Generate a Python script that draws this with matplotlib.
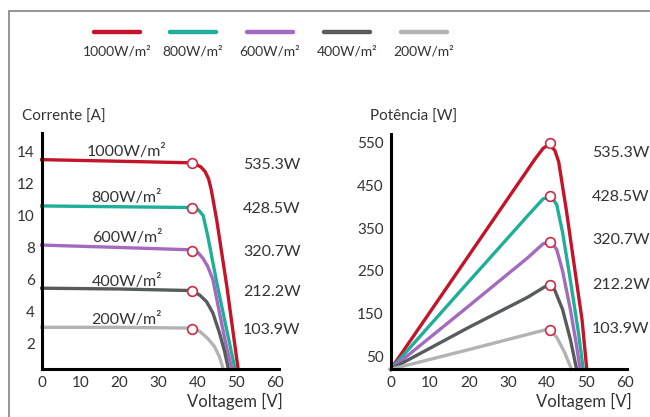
import matplotlib
matplotlib.use('Agg')
import matplotlib.pyplot as plt
import matplotlib.patches as mpatches
from matplotlib.lines import Line2D

plt.rcParams['font.family'] = ['Lato', 'DejaVu Sans']

# ---------------------------------------------------------------------------
# Data
# ---------------------------------------------------------------------------
irradiance = ['1000W/m²', '800W/m²', '600W/m²', '400W/m²', '200W/m²']
p_max_labels = ['535.3W', '428.5W', '320.7W', '212.2W', '103.9W']

# I-V curves
V_1000 = [0, 20, 38.7, 40.9, 42.0, 42.9, 43.6, 45.0, 47.6, 50.5]
I_1000 = [13.5, 13.4, 13.3, 13.05, 12.75, 12.3, 11.6, 9.7, 5.55, 0.37]
V_800 = [0, 20, 38.7, 40.3, 41.5, 42.7, 45.0, 47.5, 49.7]
I_800 = [10.6, 10.55, 10.5, 10.35, 10.0, 8.7, 5.8, 2.9, 0.37]
V_600 = [0, 20, 38.7, 40.3, 41.5, 42.7, 44.0, 45.7, 47.3, 48.9]
I_600 = [8.15, 8.0, 7.85, 7.65, 7.3, 6.8, 6.0, 3.9, 2.0, 0.37]
V_400 = [0, 20, 38.7, 40.7, 42.4, 44.0, 45.7, 47.0, 48.0]
I_400 = [5.45, 5.4, 5.3, 5.0, 4.6, 3.9, 2.65, 1.5, 0.37]
V_200 = [0, 20, 38.7, 40.7, 42.7, 44.4, 45.7, 46.7]
I_200 = [3.0, 3.0, 2.95, 2.73, 2.3, 1.8, 1.15, 0.37]

# MPP markers on the I-V plot
mpp_v = [38.7, 38.7, 38.7, 38.7, 38.7]
mpp_i = [13.27, 10.5, 7.8, 5.3, 2.9]
iv_label_i = [14.0, 11.1, 8.6, 5.86, 3.46]

# P-V curves
PV_1000 = [0, 10, 20, 30, 37, 39, 40.5, 42.0, 43.0, 45.0, 47.0, 49.0, 50.2]
P_1000 = [20, 153, 286, 419, 512, 536, 545, 532, 505, 390, 262, 135, 20]
PV_800 = [0, 20, 35, 39, 41, 42.5, 44, 46, 48, 49.3]
P_800 = [20, 225, 378, 418, 424, 405, 340, 228, 110, 20]
PV_600 = [0, 20, 35, 39, 41, 42.5, 44, 46, 47.5, 48.5]
P_600 = [20, 168, 280, 313, 318, 300, 250, 160, 80, 20]
PV_400 = [0, 20, 35, 39.5, 41, 42, 44, 46, 47.6]
P_400 = [20, 118, 188, 213, 216, 205, 160, 90, 20]
PV_200 = [0, 20, 39.5, 41, 42.5, 44.5, 46.3]
P_200 = [20, 66, 112, 110, 95, 60, 20]

mpp_pv = [40.8, 40.8, 40.8, 40.8, 40.8]
mpp_p = [548, 424, 318, 217, 112]
pv_label_p = [525, 422, 321, 217, 114]

COLORS = ['#c3142a', '#1fae97', '#a36bbf', '#575b5c', '#b3b3b3']
MARK = '#cc2a45'
TXT = '#333333'

iv_series = [(V_1000, I_1000), (V_800, I_800), (V_600, I_600),
             (V_400, I_400), (V_200, I_200)]
pv_series = [(PV_1000, P_1000), (PV_800, P_800), (PV_600, P_600),
             (PV_400, P_400), (PV_200, P_200)]

fig = plt.figure(figsize=(6.5, 4.17), dpi=100)

# frame
fig.patches.append(mpatches.Rectangle((9 / 650, -0.1), 1.2, 1 - 11 / 417 + 0.1,
                                      transform=fig.transFigure, fill=False,
                                      edgecolor='#8c8c8c', linewidth=1.3))

# legend: line above label
leg_x = [117, 193, 270, 347, 424]
for k, (lab, c) in enumerate(zip(irradiance, COLORS)):
    cx = leg_x[k] / 650
    fig.add_artist(Line2D([cx - 23 / 650, cx + 23 / 650], [1 - 32 / 417] * 2,
                          transform=fig.transFigure, color=c, linewidth=3.2,
                          solid_capstyle='round'))
    fig.text(cx, 1 - 51 / 417, lab, ha='center', va='center', fontsize=10,
             color=TXT)


def style(ax):
    for s in ['top', 'right']:
        ax.spines[s].set_visible(False)
    for s in ['left', 'bottom']:
        ax.spines[s].set_linewidth(2.2)
        ax.spines[s].set_color('black')
    ax.tick_params(length=0, labelsize=11, colors=TXT, pad=5)


# ===================================================================
# I-V plot
# ===================================================================
ax1 = fig.add_axes([41.7 / 650, 1 - 369.3 / 417, 237.3 / 650, 236 / 417])
for (v, i), c in zip(iv_series, COLORS):
    ax1.plot(v, i, color=c, linewidth=2.4, solid_joinstyle='round', clip_on=False)
ax1.plot(mpp_v, mpp_i, 'o', markersize=7, markerfacecolor='white',
         markeredgecolor=MARK, markeredgewidth=1.2, clip_on=False, zorder=5)
for lab, y in zip(irradiance, iv_label_i):
    ax1.text(21.9, y, lab, ha='center', va='center', fontsize=11.5, color=TXT)
for lab, y in zip(p_max_labels, mpp_i):
    ax1.text(51.7, y - 0.1, lab, ha='left', va='center', fontsize=11.5, color=TXT)
ax1.set_xlim(0, 61)
ax1.set_ylim(0.37, 15.15)
ax1.set_xticks(range(0, 61, 10))
ax1.set_yticks(range(2, 15, 2))
style(ax1)
ax1.text(-0.083, 1.069, 'Corrente [A]', transform=ax1.transAxes, ha='left',
         va='center', fontsize=11, color=TXT)
ax1.text(1.017, -0.137, 'Voltagem [V]', transform=ax1.transAxes, ha='right',
         va='center', fontsize=12, color=TXT)

# ===================================================================
# P-V plot
# ===================================================================
ax2 = fig.add_axes([390.7 / 650, 1 - 369.3 / 417, 236.3 / 650, 235 / 417])
for (v, p), c in zip(pv_series, COLORS):
    ax2.plot(v, p, color=c, linewidth=2.4, solid_joinstyle='round', clip_on=False)
ax2.plot(mpp_pv, mpp_p, 'o', markersize=7, markerfacecolor='white',
         markeredgecolor=MARK, markeredgewidth=1.2, clip_on=False, zorder=5)
for lab, y in zip(p_max_labels, pv_label_p):
    ax2.text(51.5, y, lab, ha='left', va='center', fontsize=11.5, color=TXT)
ax2.set_xlim(0, 60.5)
ax2.set_ylim(20, 569)
ax2.set_xticks(range(0, 61, 10))
ax2.set_yticks(range(50, 551, 100))
style(ax2)
ax2.text(-0.0876, 1.074, 'Potência [W]', transform=ax2.transAxes, ha='left',
         va='center', fontsize=11, color=TXT)
ax2.text(1.021, -0.137, 'Voltagem [V]', transform=ax2.transAxes, ha='right',
         va='center', fontsize=12, color=TXT)

fig.savefig('out.png', dpi=100, facecolor='white')
